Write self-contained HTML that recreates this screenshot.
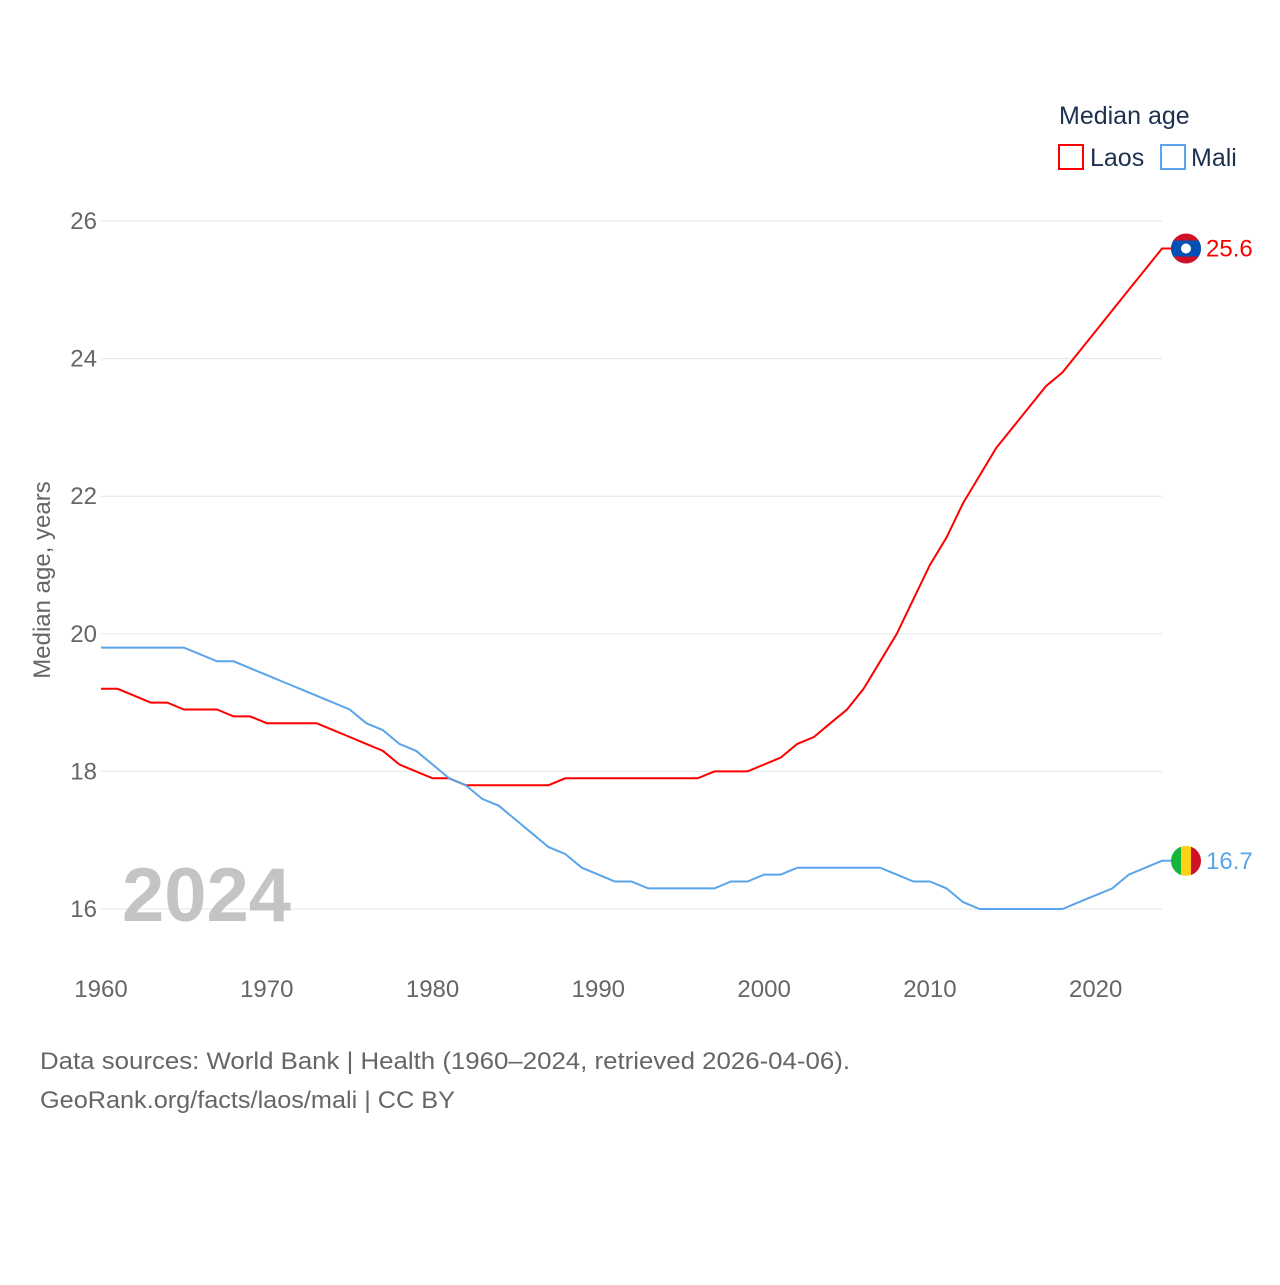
<!DOCTYPE html>
<html><head><meta charset="utf-8">
<style>
body{margin:0;background:#fff;font-family:"Liberation Sans",sans-serif;}
#wrap{position:relative;width:1280px;height:1280px;}
</style></head>
<body>
<div id="wrap">
<svg id="chart" width="1280" height="1280"></svg>
</div>
<script>
const years = [];
for (let y = 1960; y <= 2024; y++) years.push(y);
const laos = [19.2,19.2,19.1,19.0,19.0,18.9,18.9,18.9,18.8,18.8,18.7,18.7,18.7,18.7,18.6,18.5,18.4,18.3,18.1,18.0,17.9,17.9,17.8,17.8,17.8,17.8,17.8,17.8,17.9,17.9,17.9,17.9,17.9,17.9,17.9,17.9,17.9,18.0,18.0,18.0,18.1,18.2,18.4,18.5,18.7,18.9,19.2,19.6,20.0,20.5,21.0,21.4,21.9,22.3,22.7,23.0,23.3,23.6,23.8,24.1,24.4,24.7,25.0,25.3,25.6];
const mali = [19.8,19.8,19.8,19.8,19.8,19.8,19.7,19.6,19.6,19.5,19.4,19.3,19.2,19.1,19.0,18.9,18.7,18.6,18.4,18.3,18.1,17.9,17.8,17.6,17.5,17.3,17.1,16.9,16.8,16.6,16.5,16.4,16.4,16.3,16.3,16.3,16.3,16.3,16.4,16.4,16.5,16.5,16.6,16.6,16.6,16.6,16.6,16.6,16.5,16.4,16.4,16.3,16.1,16.0,16.0,16.0,16.0,16.0,16.0,16.1,16.2,16.3,16.5,16.6,16.7];
const yTicks = [16,18,20,22,24,26];
const xTicks = [1960,1970,1980,1990,2000,2010,2020];

const NS="http://www.w3.org/2000/svg";
const svg=document.getElementById('chart');
const X=v=>101+(v-1960)*(1162-101)/64;
const Y=v=>909-(v-16)*68.8;
function el(tag,attrs,text){const e=document.createElementNS(NS,tag);for(const k in attrs)e.setAttribute(k,attrs[k]);if(text!==undefined)e.textContent=text;svg.appendChild(e);return e;}

yTicks.forEach(t=>{
  const g=el('line',{x1:101,x2:1162,y1:Y(t),y2:Y(t),stroke:'#e6e6e6','stroke-width':1});
  
  
  const l=el('text',{x:97,y:Y(t)+8,'text-anchor':'end','font-size':24,fill:'#666'},t);
  
  
});
xTicks.forEach(t=>{
  const l=el('text',{x:X(t),y:997,'text-anchor':'middle','font-size':24,fill:'#666'},t);
  
  
});
const yt=el('text',{x:0,y:0,transform:'translate(50,580) rotate(-90)','text-anchor':'middle','font-size':24,fill:'#666'},'Median age, years');



const yr=el('text',{x:122,y:921,'font-size':76,'font-weight':'bold',fill:'#c4c4c4'},'2024');



function series(vals,color,name){
  const d=vals.map((v,i)=>(i?'L':'M')+X(years[i]).toFixed(1)+','+Y(v).toFixed(1)).join(' ')+' L'+(X(2024)+10)+','+Y(vals[vals.length-1]).toFixed(1);
  const p=el('path',{d:d,fill:'none',stroke:color,'stroke-width':2});
  
  
}
series(laos,'#ff0000','laos');
series(mali,'#5aa5ea','mali');

const ly=Y(laos[laos.length-1]), my=Y(mali[mali.length-1]);
const defs=el('defs',{});
defs.innerHTML='<clipPath id="cl"><circle cx="1186" cy="'+ly+'" r="15"/></clipPath><clipPath id="cm"><circle cx="1186" cy="'+my+'" r="15"/></clipPath>';
el('rect',{x:1171,y:ly-15,width:30,height:30,fill:'#ce1126','clip-path':'url(#cl)'});
el('rect',{x:1171,y:ly-8,width:30,height:16,fill:'#0050b5','clip-path':'url(#cl)'});
el('circle',{cx:1186,cy:ly,r:5,fill:'#fff'});
el('rect',{x:1171,y:my-15,width:10,height:30,fill:'#14b53a','clip-path':'url(#cm)'});
el('rect',{x:1181,y:my-15,width:10,height:30,fill:'#fcd116','clip-path':'url(#cm)'});
el('rect',{x:1191,y:my-15,width:10,height:30,fill:'#ce1126','clip-path':'url(#cm)'});
const lv=el('text',{x:1206,y:ly+8,'font-size':24,fill:'#ff0000'},laos[laos.length-1].toFixed(1));


const mv=el('text',{x:1206,y:my+8,'font-size':24,fill:'#5aa5ea'},mali[mali.length-1].toFixed(1));



const lt=el('text',{x:1059,y:124,'font-size':25,fill:'#1d3050'},'Median age');


const r1=el('rect',{x:1059,y:145,width:24,height:24,fill:'none',stroke:'#ff0000','stroke-width':2});


const t1=el('text',{x:1090,y:166,'font-size':25,fill:'#1d3050'},'Laos');


const r2=el('rect',{x:1161,y:145,width:24,height:24,fill:'none',stroke:'#5aa5ea','stroke-width':2});


const t2=el('text',{x:1191,y:166,'font-size':25,fill:'#1d3050'},'Mali');



const s1=el('text',{x:40,y:1069,'font-size':24,fill:'#666',textLength:810,lengthAdjust:'spacingAndGlyphs'},'Data sources: World Bank | Health (1960–2024, retrieved 2026-04-06).');


const s2=el('text',{x:40,y:1108,'font-size':24,fill:'#666',textLength:415,lengthAdjust:'spacingAndGlyphs'},'GeoRank.org/facts/laos/mali | CC BY');


</script>
</body></html>
